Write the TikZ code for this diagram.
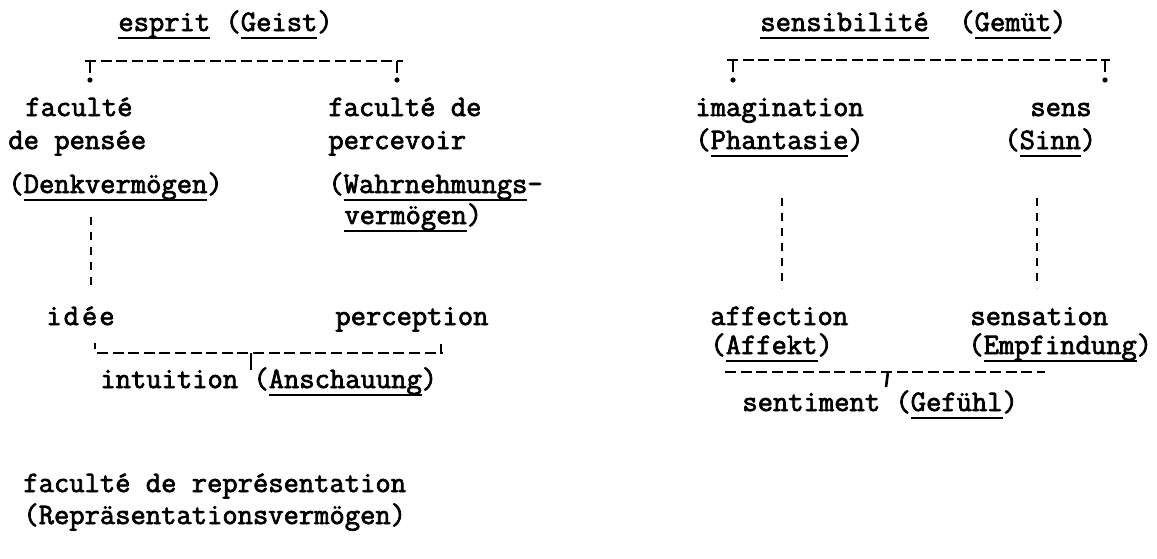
\documentclass[tikz,border=0pt]{standalone}
\usepackage{fontspec}
\newfontfamily\typewr{Latin Modern Mono}[FakeBold=2.4]
\newcommand{\typefont}{\fontsize{14.86}{18}\selectfont\typewr}
\newcommand{\typeul}[1]{\setbox0=\hbox{#1}\rlap{\rule[-4pt]{\wd0}{1.2pt}}\box0\relax}
\tikzset{
  txt/.style={anchor=base west, inner sep=0pt, font=\typefont},
  dashline/.style={line width=1.4pt, dash pattern=on 5.5pt off 2.3pt},
  vdash/.style={line width=1.2pt, dash pattern=on 4pt off 3.5pt},
  tick/.style={line width=1.3pt},
}
\begin{document}
\begin{tikzpicture}[x=0.5pt, y=-0.5pt]
\useasboundingbox (0,0) rectangle (1157,558);

\node[txt] (geist) at (118,31) {\typeul{esprit} (\typeul{Geist})};
\node[txt] (denk1) at (25,116) {faculté};
\node[txt] (denk2) at (8,149) {de pensée};
\node[txt] (denk3) at (8,193) {(\typeul{Denkvermögen})};
\node[txt] (wahr1) at (328,116) {faculté de};
\node[txt] (wahr2) at (328,149) {percevoir};
\node[txt] (wahr3) at (328,193) {(\typeul{Wahrnehmungs}-};
\node[txt] (wahr4) at (344,224) {\typeul{vermögen})};
\node[txt] (idee) at (46,325) {i\kern1pt d\kern1.5pt é\kern1pt e};
\node[txt] (percep) at (335,325) {perception};
\node[txt] (anschau) at (100,388) {intuition (\typeul{Anschauung})};
\node[txt] (repr1) at (23,492) {faculté de représentation};
\node[txt] (repr2) at (23,524) {(Repräsentationsvermögen)};

\node[txt] (gemuet) at (760,31) {\typeul{sensibilité}\ \ (\typeul{Gemüt})};
\node[txt] (phant1) at (695,116) {imagination};
\node[txt] (phant2) at (695,149) {(\typeul{Phantasie})};
\node[txt] (sinn1) at (1030,116) {sens};
\node[txt] (sinn2) at (1004,149) {(\typeul{Sinn})};
\node[txt] (affekt1) at (710,325) {affection};
\node[txt] (affekt2) at (710,354) {(\typeul{Affekt})};
\node[txt] (empf1) at (970,325) {sensation};
\node[txt] (empf2) at (968,354) {(\typeul{Empfindung})};
\node[txt] (gefuehl) at (742,411) {sentiment (\typeul{Gefühl})};

% esprit
\coordinate (espL) at (85,61);
\coordinate (espR) at (403,61);
\draw[dashline] (espL) -- (espR);
\coordinate (espT1) at (90,61);
\coordinate (espB1) at (90,73);
\coordinate (espT2) at (397,61);
\coordinate (espB2) at (397,73);
\draw[tick] (espT1) -- (espB1);
\draw[tick] (espT2) -- (espB2);
\fill (90,80) circle (1.3pt);
\fill (397,80) circle (1.3pt);

% Denkvermoegen -> idee
\coordinate (dv1) at (91,217);
\coordinate (dv2) at (91,287);
\draw[vdash] (dv1) -- (dv2);

% intuition
\coordinate (intL) at (97,353);
\coordinate (intR) at (443,353);
\draw[dashline] (intL) -- (intR);
\coordinate (intQ1) at (95,343);
\coordinate (intQ2) at (95,349);
\draw[tick] (intQ1) -- (intQ2);
\coordinate (intE) at (441,344);
\draw[tick] (intE) -- (intE |- intR);
\coordinate (intM) at (251,353);
\coordinate (intMB) at (251,370);
\draw[tick] (intM) -- (intMB);

% sensibilite
\coordinate (senL) at (727,60);
\coordinate (senR) at (1110,60);
\draw[dashline] (senL) -- (senR);
\coordinate (senT1) at (733,60);
\coordinate (senB1) at (733,72);
\coordinate (senT2) at (1105,60);
\coordinate (senB2) at (1105,72);
\draw[tick] (senT1) -- (senB1);
\draw[tick] (senT2) -- (senB2);
\fill (733,80) circle (1.3pt);
\fill (1105,80) circle (1.3pt);

% Phantasie -> affection, Sinn -> sensation
\coordinate (ph1) at (782,198);
\coordinate (ph2) at (782,288);
\draw[vdash] (ph1) -- (ph2);
\coordinate (si1) at (1037,198);
\coordinate (si2) at (1037,288);
\draw[vdash] (si1) -- (si2);

% sentiment
\coordinate (gfL) at (725,372);
\coordinate (gfR) at (1045,372);
\draw[dashline] (gfL) -- (gfR);
\coordinate (gfM) at (888,372);
\coordinate (gfMB) at (886,387);
\draw[tick] (gfM) -- (gfMB);
\end{tikzpicture}
\end{document}
